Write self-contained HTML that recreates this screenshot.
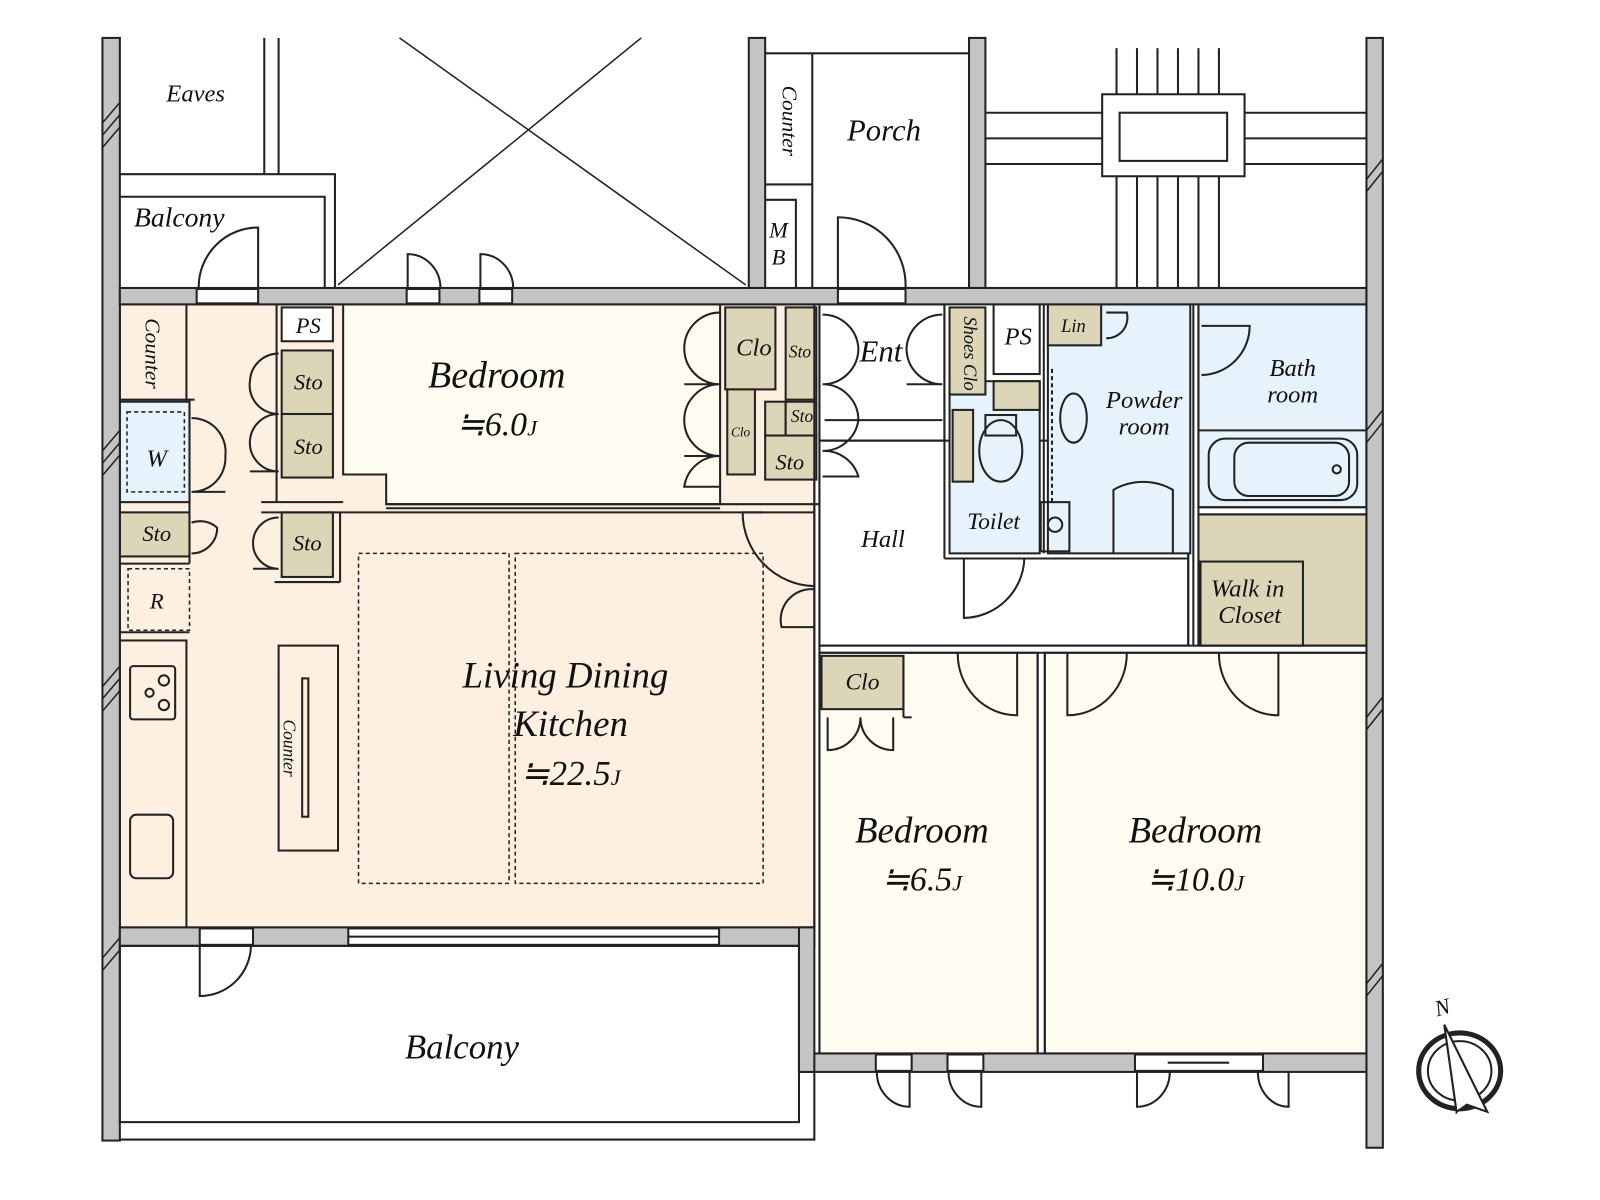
<!DOCTYPE html>
<html><head><meta charset="utf-8"><style>
html,body{margin:0;padding:0;background:#fff}
svg{display:block}
text{font-family:"Liberation Serif",serif;font-style:italic;fill:#111}
</style></head><body>
<svg width="1600" height="1200" viewBox="0 0 1562 1171" preserveAspectRatio="none" xmlns="http://www.w3.org/2000/svg">
<g stroke="#222" stroke-width="2" fill="none">
<rect x="117" y="297" width="678" height="608" fill="#fdf0e0"/>
<path d="M335 297 H703 V492 H377 V463 H335 Z" fill="#fefcf0"/>
<rect x="800" y="297" width="122" height="133" fill="#fff"/>
<rect x="800" y="430" width="360" height="200" fill="#fff"/>
<rect x="927" y="372" width="88" height="168" fill="#e6f3fc"/>
<rect x="1023" y="297" width="139" height="243" fill="#e6f3fc"/>
<rect x="1170" y="297" width="164" height="198" fill="#e6f3fc"/>
<rect x="1170" y="502" width="164" height="128" fill="#dcd5b8"/>
<rect x="1172" y="548" width="100" height="82" fill="#dcd5b8"/>
<rect x="800" y="637" width="213" height="391" fill="#fefcf0"/>
<rect x="1020" y="637" width="314" height="391" fill="#fefcf0"/>
<rect x="970" y="297" width="45" height="68" fill="#fff"/>
<rect x="275" y="300" width="50" height="33" fill="#fff"/>
<g fill="#dcd5b8">
<rect x="708" y="300" width="49" height="80"/>
<rect x="710" y="380" width="27" height="83"/>
<rect x="767" y="300" width="30" height="90"/>
<rect x="747" y="392" width="20" height="33"/>
<rect x="767" y="392" width="30" height="33"/>
<rect x="747" y="425" width="50" height="43"/>
<rect x="927" y="300" width="35" height="85"/>
<rect x="1023" y="297" width="52" height="40"/>
<rect x="970" y="372" width="45" height="28"/>
<rect x="930" y="400" width="20" height="70"/>
<rect x="275" y="342" width="50" height="62"/>
<rect x="275" y="404" width="50" height="62"/>
<rect x="275" y="500" width="50" height="63"/>
<rect x="117" y="500" width="68" height="43"/>
<rect x="802" y="640" width="80" height="52"/>
</g>
<rect x="117" y="392" width="68" height="98" fill="#e6f3fc"/>
<rect x="124" y="402" width="56" height="78" stroke-dasharray="4 3" stroke-width="1.5"/>
<rect x="125" y="555" width="60" height="60" stroke-dasharray="4 3" stroke-width="1.5"/>
<rect x="117" y="297" width="65" height="93" fill="#fdf0e0"/>
<rect x="117" y="625" width="65" height="280" fill="#fdf0e0"/>
<rect x="272" y="630" width="58" height="200"/>
<rect x="295" y="662" width="6" height="135"/>
<rect x="350" y="540" width="147" height="322" stroke-dasharray="4 3" stroke-width="1.5"/>
<rect x="503" y="540" width="242" height="322" stroke-dasharray="4 3" stroke-width="1.5"/>
<rect x="127" y="650" width="44" height="52" rx="3"/>
<circle cx="160" cy="664" r="5"/><circle cx="146" cy="676" r="4"/><circle cx="160" cy="688" r="5"/>
<rect x="127" y="795" width="42" height="62" rx="6"/>
<rect x="1180" y="428" width="145" height="60" rx="16"/>
<rect x="1205" y="432" width="112" height="52" rx="14"/>
<circle cx="1305" cy="458" r="4"/>
<ellipse cx="977" cy="440" rx="21" ry="30"/>
<rect x="962" y="405" width="30" height="20"/>
<ellipse cx="1048" cy="408" rx="13" ry="24"/>
<rect x="1016" y="490" width="28" height="48"/><circle cx="1030" cy="512" r="7"/>
<line x1="1027" y1="360" x2="1027" y2="490" stroke-dasharray="4 3"/>
<g fill="#c4c4c4">
<rect x="100" y="37" width="17" height="1076"/>
<rect x="117" y="281" width="1217" height="16"/>
<rect x="731" y="37" width="16" height="244"/>
<rect x="946" y="37" width="16" height="244"/>
<rect x="1334" y="37" width="16" height="1083"/>
<rect x="117" y="905" width="678" height="18"/>
<rect x="780" y="1028" width="554" height="18"/>
<rect x="780" y="905" width="15" height="141"/>
</g>
<g fill="#fff">
<rect x="192" y="282" width="60" height="14"/>
<rect x="397" y="282" width="32" height="14"/>
<rect x="468" y="282" width="32" height="14"/>
<rect x="818" y="282" width="66" height="14"/>
<rect x="195" y="906" width="52" height="16"/>
<rect x="340" y="906" width="362" height="16"/>
<rect x="855" y="1029" width="35" height="16"/>
<rect x="925" y="1029" width="35" height="16"/>
<rect x="1108" y="1029" width="125" height="16"/>
</g>
<line x1="340" y1="914" x2="702" y2="914"/>
<line x1="1140" y1="1037" x2="1200" y2="1037"/>
<line x1="795" y1="297" x2="795" y2="905"/>
<line x1="800" y1="297" x2="800" y2="1028"/>
<line x1="703" y1="492" x2="800" y2="492"/>
<line x1="335" y1="500" x2="795" y2="500"/>
<line x1="377" y1="492" x2="703" y2="492"/>
<line x1="377" y1="496" x2="703" y2="496"/>
<line x1="1013" y1="637" x2="1013" y2="1028"/>
<line x1="1020" y1="637" x2="1020" y2="1028"/>
<line x1="800" y1="630" x2="1334" y2="630"/>
<line x1="800" y1="637" x2="1334" y2="637"/>
<line x1="1160" y1="540" x2="1160" y2="630"/>
<line x1="922" y1="297" x2="922" y2="545"/>
<line x1="922" y1="545" x2="1160" y2="545"/>
<line x1="1165" y1="297" x2="1165" y2="630"/>
<line x1="1170" y1="297" x2="1170" y2="630"/>
<line x1="1170" y1="495" x2="1334" y2="495"/>
<line x1="1170" y1="502" x2="1334" y2="502"/>
<line x1="1170" y1="420" x2="1334" y2="420"/>
<line x1="1019" y1="297" x2="1019" y2="540"/>
<line x1="270" y1="297" x2="270" y2="490"/>
<line x1="255" y1="490" x2="335" y2="490"/>
<line x1="255" y1="500" x2="335" y2="500"/>
<line x1="332" y1="500" x2="332" y2="568"/>
<line x1="268" y1="568" x2="332" y2="568"/>
<line x1="182" y1="390" x2="190" y2="390"/>
<line x1="185" y1="390" x2="185" y2="550"/>
<line x1="117" y1="550" x2="185" y2="550"/>
<line x1="117" y1="617" x2="185" y2="617"/>
<line x1="117" y1="625" x2="182" y2="625"/>
<line x1="805" y1="410" x2="920" y2="410"/>
<line x1="805" y1="430" x2="920" y2="430"/>
<line x1="882" y1="640" x2="882" y2="700"/>
<line x1="882" y1="700" x2="890" y2="700"/>
<line x1="258" y1="37" x2="258" y2="170"/><line x1="272" y1="37" x2="272" y2="170"/>
<path d="M117 170 H327 V281 M117 192 H317 V281"/>
<line x1="390" y1="37" x2="728" y2="278" stroke-width="1.5"/>
<line x1="626" y1="37" x2="330" y2="278" stroke-width="1.5"/>
<path d="M747 52 H946 M747 180 H793 M793 52 V281 M747 195 H777 V281"/>
<path d="M962 110 H1076 M962 135 H1076 M962 160 H1076 M1215 110 H1334 M1215 135 H1334 M1215 160 H1334"/>
<rect x="1076" y="92" width="139" height="80"/>
<rect x="1093" y="110" width="105" height="47"/>
<path d="M1090 47 V92 M1110 47 V92 M1130 47 V92 M1150 47 V92 M1170 47 V92 M1190 47 V92 M1090 172 V281 M1110 172 V281 M1130 172 V281 M1150 172 V281 M1170 172 V281 M1190 172 V281"/>
<rect x="117" y="923" width="663" height="172"/>
<path d="M117 1112 H795 V1046"/>
<path d="M252 281 V222 A58 58 0 0 0 194 281"/>
<path d="M398 281 V248 A32 33 0 0 1 430 281"/>
<path d="M469 281 V248 A32 33 0 0 1 501 281"/>
<path d="M818 281 V212 A66 66 0 0 1 884 281"/>
<path d="M195 923 V972 A50 50 0 0 0 245 923"/>
<path d="M745 500 H725 A72 72 0 0 0 795 572"/>
<path d="M795 575 A30 30 0 0 0 763 612 H795"/>
<path d="M941 545 V603 A60 60 0 0 0 1000 545"/>
<path d="M1087 540 V478 A58 58 0 0 1 1145 478 V540"/>
<path d="M1173 318 H1220 A48 48 0 0 1 1173 366"/>
<path d="M1080 305 H1100 A20 20 0 0 1 1080 330"/>
<path d="M935 637 A58 60 0 0 0 993 698 V637"/>
<path d="M1042 637 V698 A58 60 0 0 0 1100 637"/>
<path d="M1190 637 A58 60 0 0 0 1248 698 V637"/>
<path d="M888 1046 V1080 A32 34 0 0 1 856 1046"/>
<path d="M958 1046 V1080 A32 34 0 0 1 926 1046"/>
<path d="M1110 1046 V1080 A32 34 0 0 0 1142 1046"/>
<path d="M1258 1046 V1080 A30 34 0 0 1 1228 1046"/>
<path d="M703 305 A35 35 0 0 0 668 340 A35 35 0 0 0 703 375 A35 35 0 0 0 668 410 A35 35 0 0 0 703 445 M668 375 H703 M668 445 H703 M703 445 A35 35 0 0 0 668 475 H703"/>
<path d="M803 307 A35 35 0 0 1 838 340 A35 35 0 0 1 803 375 A35 35 0 0 1 838 410 A35 35 0 0 1 803 440 A35 35 0 0 1 838 465 H803"/>
<path d="M920 307 A35 35 0 0 0 885 340 A35 35 0 0 0 920 375 H885"/>
<path d="M272 345 A28 28 0 0 0 244 372 A28 28 0 0 0 272 404 A28 28 0 0 0 244 430 A28 28 0 0 0 272 460 H244"/>
<path d="M272 505 A25 25 0 0 0 247 530 A25 25 0 0 0 272 555 H247"/>
<path d="M187 408 A33 33 0 0 1 220 445 A33 33 0 0 1 187 480 H220"/>
<path d="M187 510 A25 25 0 0 1 212 515 A25 25 0 0 1 187 540"/>
<path d="M808 700 V732 A32 32 0 0 0 840 700 M872 700 V732 A32 32 0 0 1 840 700"/>
<path d="M100 120 L117 100 M100 132 L117 112 M100 144 L117 124 M100 440 L117 420 M100 452 L117 432 M100 464 L117 444 M100 670 L117 650 M100 682 L117 662 M100 694 L117 674 M100 935 L117 915 M100 947 L117 927 M1334 175 L1350 155 M1334 187 L1350 167 M1334 420 L1350 400 M1334 432 L1350 412 M1334 700 L1350 680 M1334 712 L1350 692 M1334 960 L1350 940 M1334 972 L1350 952" stroke-width="1.5"/>
<ellipse cx="1425" cy="1045" rx="40" ry="37" stroke-width="5"/>
<ellipse cx="1425" cy="1045" rx="31" ry="29" stroke-width="2"/>
<path d="M1410 1000 L1422 1085 L1432 1070 Z" fill="#111" stroke="#111"/>
<path d="M1410 1000 L1452 1085 L1432 1078 L1422 1085 Z" fill="#fff"/>
</g>
<g font-size="25">
<text x="191" y="99" text-anchor="middle" font-size="24">Eaves</text>
<text x="175" y="221" text-anchor="middle" font-size="27">Balcony</text>
<text x="863" y="137" text-anchor="middle" font-size="30">Porch</text>
<text x="760" y="232" text-anchor="middle" font-size="22">M</text>
<text x="760" y="258" text-anchor="middle" font-size="22">B</text>
<text x="301" y="325" text-anchor="middle" font-size="22">PS</text>
<text x="301" y="380" text-anchor="middle" font-size="22">Sto</text>
<text x="301" y="443" text-anchor="middle" font-size="22">Sto</text>
<text x="300" y="537" text-anchor="middle" font-size="22">Sto</text>
<text x="153" y="528" text-anchor="middle" font-size="22">Sto</text>
<text x="153" y="455" text-anchor="middle" font-size="24">W</text>
<text x="153" y="594" text-anchor="middle" font-size="22">R</text>
<text x="485" y="378" text-anchor="middle" font-size="37">Bedroom</text>
<text x="485" y="425" text-anchor="middle" font-size="33">≒6.0<tspan font-size="22">J</tspan></text>
<text x="736" y="347" text-anchor="middle" font-size="24">Clo</text>
<text x="723" y="426" text-anchor="middle" font-size="13">Clo</text>
<text x="781" y="349" text-anchor="middle" font-size="17">Sto</text>
<text x="783" y="412" text-anchor="middle" font-size="17">Sto</text>
<text x="771" y="458" text-anchor="middle" font-size="22">Sto</text>
<text x="860" y="353" text-anchor="middle" font-size="30">Ent</text>
<text x="862" y="534" text-anchor="middle" font-size="24">Hall</text>
<text x="994" y="336" text-anchor="middle" font-size="24">PS</text>
<text x="1048" y="324" text-anchor="middle" font-size="18">Lin</text>
<text x="970" y="516" text-anchor="middle" font-size="23">Toilet</text>
<text x="1117" y="398" text-anchor="middle" font-size="24">Powder</text>
<text x="1117" y="424" text-anchor="middle" font-size="24">room</text>
<text x="1262" y="367" text-anchor="middle" font-size="24">Bath</text>
<text x="1262" y="393" text-anchor="middle" font-size="24">room</text>
<text x="1218" y="582" text-anchor="middle" font-size="24">Walk in</text>
<text x="1220" y="608" text-anchor="middle" font-size="24">Closet</text>
<text x="552" y="671" text-anchor="middle" font-size="36">Living Dining</text>
<text x="557" y="718" text-anchor="middle" font-size="36">Kitchen</text>
<text x="557" y="766" text-anchor="middle" font-size="34">≒22.5<tspan font-size="22">J</tspan></text>
<text x="842" y="673" text-anchor="middle" font-size="23">Clo</text>
<text x="900" y="822" text-anchor="middle" font-size="36">Bedroom</text>
<text x="900" y="869" text-anchor="middle" font-size="33">≒6.5<tspan font-size="22">J</tspan></text>
<text x="1167" y="822" text-anchor="middle" font-size="36">Bedroom</text>
<text x="1167" y="869" text-anchor="middle" font-size="33">≒10.0<tspan font-size="22">J</tspan></text>
<text x="451" y="1033" text-anchor="middle" font-size="34">Balcony</text>
<text x="1410" y="990" text-anchor="middle" font-size="22" transform="rotate(-15 1410 990)">N</text>
<text transform="translate(142 345) rotate(90)" text-anchor="middle" font-size="21">Counter</text>
<text transform="translate(764 118) rotate(90)" text-anchor="middle" font-size="21">Counter</text>
<text transform="translate(941 345) rotate(90)" text-anchor="middle" font-size="18">Shoes Clo</text>
<text transform="translate(277 730) rotate(90)" text-anchor="middle" font-size="17">Counter</text>
</g>
</svg>
</body></html>
